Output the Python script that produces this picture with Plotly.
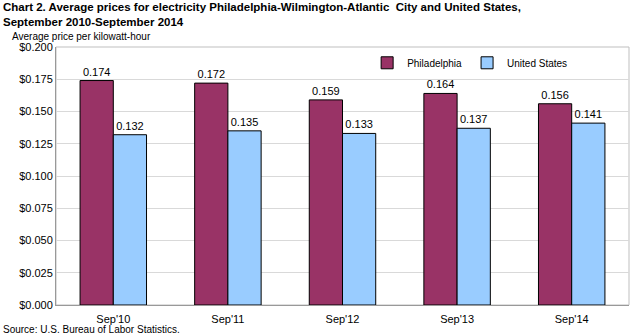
import plotly.graph_objects as go

categories = ["Sep'10", "Sep'11", "Sep'12", "Sep'13", "Sep'14"]
philadelphia = [0.174, 0.172, 0.159, 0.164, 0.156]
united_states = [0.132, 0.135, 0.133, 0.137, 0.141]
y_ticks = [0.0, 0.025, 0.05, 0.075, 0.1, 0.125, 0.15, 0.175, 0.2]

FONT = "Liberation Sans, Arial, sans-serif"

fig = go.Figure()
fig.add_trace(go.Bar(
    x=categories, y=philadelphia, name="Philadelphia",
    marker=dict(color="#993366", line=dict(color="#000000", width=1)),
    text=[f"{v:.3f}" for v in philadelphia], textposition="outside",
    textfont=dict(size=11, color="#000000"), cliponaxis=False,
))
fig.add_trace(go.Bar(
    x=categories, y=united_states, name="United States",
    marker=dict(color="#99CCFF", line=dict(color="#000000", width=1)),
    text=[f"{v:.3f}" for v in united_states], textposition="outside",
    textfont=dict(size=11, color="#000000"), cliponaxis=False,
))

fig.update_layout(
    width=630, height=336,
    margin=dict(l=56, r=1, t=47, b=31),
    paper_bgcolor="white", plot_bgcolor="white",
    font=dict(family=FONT, size=11, color="#000000"),
    barmode="group", bargap=0.42, bargroupgap=0,
    showlegend=True,
    legend=dict(orientation="h", x=0.543, y=0.995, xanchor="left", yanchor="top",
                font=dict(size=10), bgcolor="rgba(0,0,0,0)",
                itemwidth=30, traceorder="normal"),
    xaxis=dict(showline=True, linecolor="#999999", linewidth=1,
               ticks="", tickfont=dict(size=11), ticklabelstandoff=4),
    yaxis=dict(range=[0, 0.2], tickvals=y_ticks,
               ticktext=[f"${v:.3f}" for v in y_ticks],
               showgrid=True, gridcolor="#d9d9d9", gridwidth=1,
               showline=True, linecolor="#999999", linewidth=1,
               ticks="", tickfont=dict(size=11), zeroline=False),
    annotations=[
        dict(text="<b>Chart 2. Average prices for electricity Philadelphia-Wilmington-Atlantic  City and United States,<br>September 2010-September 2014</b>",
             xref="paper", yref="paper", x=0, y=1, xanchor="left", yanchor="bottom",
             xshift=-55, yshift=17, align="left", showarrow=False,
             font=dict(size=11.5, family=FONT)),
        dict(text="Average price per kilowatt-hour", xref="paper", yref="paper",
             x=0, y=1, xanchor="left", yanchor="bottom", xshift=-46, yshift=3,
             showarrow=False, font=dict(size=10, family=FONT)),
        dict(text="Source: U.S. Bureau of Labor Statistics.", xref="paper", yref="paper",
             x=0, y=0, xanchor="left", yanchor="top", xshift=-55, yshift=-17,
             showarrow=False, font=dict(size=10, family=FONT)),
    ],
)

# Thin frame along the top and right of the plotting area
fig.add_shape(type="rect", xref="paper", yref="paper", x0=0, y0=0, x1=1, y1=1,
              line=dict(color="#bfbfbf", width=1), layer="below")

fig.write_html("out.html")
